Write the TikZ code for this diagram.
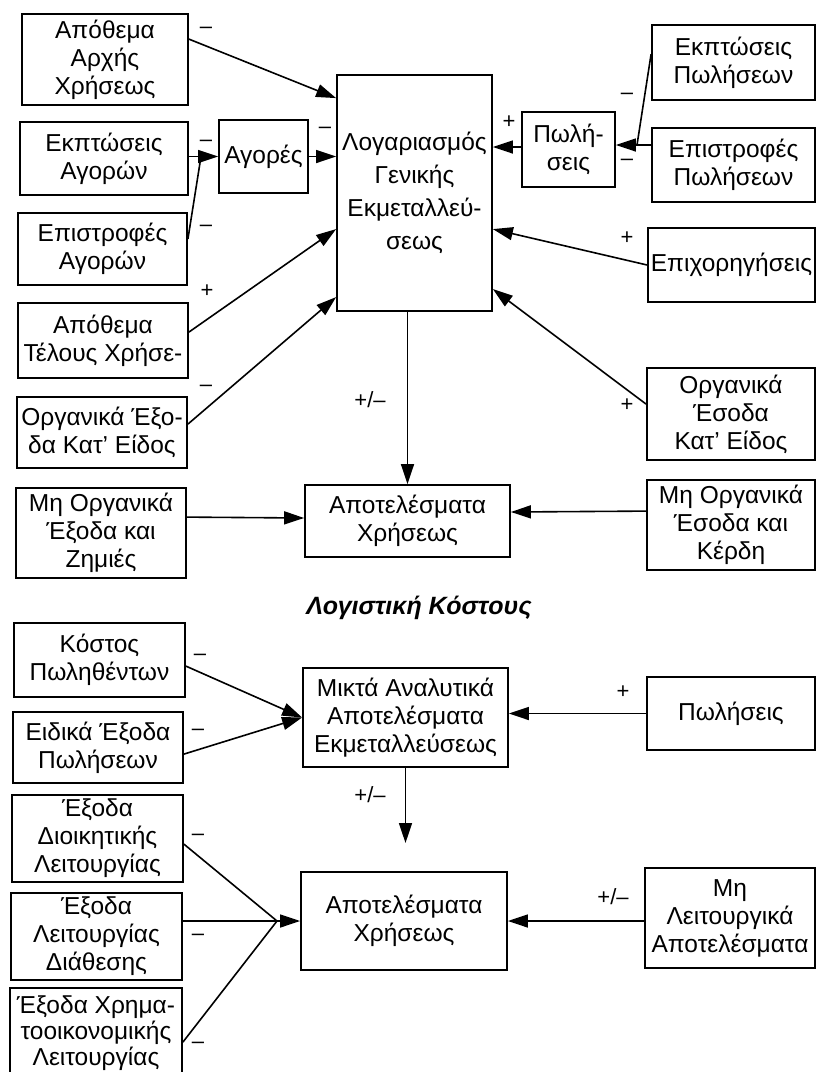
\documentclass[tikz,border=0pt]{standalone}
\usepackage{fontspec}
\setmainfont{Liberation Sans}
\usetikzlibrary{arrows.meta,calc}
\tikzset{
  bx/.style 2 args={draw, line width=1.8pt, align=center, inner sep=0pt,
    minimum width=#1pt, minimum height=#2pt,
    font=\fontsize{24.5}{28}\selectfont},
  arr/.style={-{Triangle[length=20pt,width=13pt]}, line width=1.6pt},
  ln/.style={line width=1.6pt},
  lab/.style={font=\fontsize{22}{22}\selectfont, inner sep=0pt},
}
\begin{document}
\begin{tikzpicture}[x=1pt,y=-1pt]
\useasboundingbox[fill=white] (0,0) rectangle (818,1072);
% ---------- upper part ----------
\node[bx={166}{91}] (aa) at (105,59.5) {Απόθεμα\\Αρχής\\Χρήσεως};
\node[bx={168}{73}] (ekag) at (104,158.5) {Εκπτώσεις\\Αγορών};
\node[bx={89}{73}] (agor) at (263.5,156.5) {Αγορές};
\node[bx={169}{72}] (epag) at (102.5,249) {Επιστροφές\\Αγορών};
\node[bx={155}{236}, font=\fontsize{24.5}{33}\selectfont] (main) at (414.5,193) {Λογαριασμός\\Γενικής\\Εκμεταλλεύ-\\σεως};
\node[bx={93}{75}] (pol) at (568.5,149.5) {Πωλή-\\σεις};
\node[bx={163}{75}] (ekpol) at (733.5,62.5) {Εκπτώσεις\\Πωλήσεων};
\node[bx={163}{74}] (eppol) at (733.5,165) {Επιστροφές\\Πωλήσεων};
\node[bx={167}{74}] (epix) at (731.5,265) {Επιχορηγήσεις};
\node[bx={170}{75}] (ate) at (103,340.5) {Απόθεμα\\Τέλους Χρήσε-};
\node[bx={170}{71}] (oex) at (102,432.5) {Οργανικά Έξο-\\δα Κατ’ Είδος};
\node[bx={170}{90}] (mox) at (101,533) {Μη Οργανικά\\Έξοδα και\\Ζημιές};
\node[bx={205}{72}] (ar1) at (407.5,521) {Αποτελέσματα\\Χρήσεως};
\node[bx={168}{92}] (oes) at (731,414) {Οργανικά\\Έσοδα\\Κατ’ Είδος};
\node[bx={168}{90}] (moes) at (731,525) {Μη Οργανικά\\Έσοδα και\\Κέρδη};
\node[font=\bfseries\itshape\fontsize{25}{28}\selectfont, inner sep=0pt] (title) at (419,608) {Λογιστική Κόστους};
% ---------- lower part ----------
\node[bx={171}{74}] (kp) at (99.5,660) {Κόστος\\Πωληθέντων};
\node[bx={170}{71}] (eid) at (98,747.5) {Ειδικά Έξοδα\\Πωλήσεων};
\node[bx={171}{87}] (dio) at (97.5,838.5) {Έξοδα\\Διοικητικής\\Λειτουργίας};
\node[bx={171}{87}] (dia) at (96.5,936.5) {Έξοδα\\Λειτουργίας\\Διάθεσης};
\node[bx={172}{90}, font=\fontsize{24.5}{26}\selectfont] (xrh) at (96,1033) {Έξοδα Χρημα-\\τοοικονομικής\\Λειτουργίας};
\node[bx={205}{99}] (mik) at (405.5,717.5) {Μικτά Αναλυτικά\\Αποτελέσματα\\Εκμεταλλεύσεως};
\node[bx={206}{98}] (ar2) at (404,921) {Αποτελέσματα\\Χρήσεως};
\node[bx={168}{73}] (pol2) at (731,713.5) {Πωλήσεις};
\node[bx={170}{100}] (mlr) at (730,918) {Μη\\Λειτουργικά\\Αποτελέσματα};
% ---------- coordinates ----------
\coordinate (j1) at (201,156.5);
\coordinate (j2) at (637,145);
\coordinate (conv) at (277,921);
\coordinate (gap) at (405.5,843);
% ---------- connectors upper ----------
\draw[arr] ($(aa.north east)+(0,26)$) -- ($(main.north west)+(0,24)$);
\draw[arr] (ekag.east |- j1) -- (agor.west |- j1);
\draw[ln] ($(epag.north east)+(0,27)$) -- (j1);
\draw[arr] (agor.east |- j1) -- (main.west |- j1);
\draw[arr] ($(ate.north east)+(0,30)$) -- ($(main.north west)+(0,155)$);
\draw[arr] ($(oex.north east)+(0,28)$) -- ($(main.north west)+(0,223)$);
\draw[arr] (pol.west |- 0,147) -- (main.east |- 0,147);
\draw[ln] ($(ekpol.north west)+(0,30)$) -- (j2);
\draw[arr] (eppol.west |- j2) -- (pol.east |- j2);
\draw[arr] (epix.west) -- ($(main.north east)+(0,155)$);
\draw[arr] ($(oes.north west)+(0,37)$) -- ($(main.north east)+(0,215)$);
\draw[arr] (ar1.north |- main.south) -- (ar1.north);
\draw[arr] ($(mox.north east)+(0,30)$) -- (ar1.west |- 0,518);
\draw[arr] ($(moes.north west)+(0,32)$) -- (ar1.east |- 0,512);
% ---------- connectors lower ----------
\draw[arr] ($(kp.north east)+(0,44)$) -- (mik.west);
\draw[arr] ($(eid.north east)+(0,43)$) -- (mik.west);
\draw[arr] (mik.south) -- (gap);
\draw[ln] ($(dio.north east)+(0,50)$) -- (conv);
\draw[ln] (dia.east |- conv) -- (conv);
\draw[ln] ($(xrh.north east)+(0,55)$) -- (conv);
\draw[arr] (conv) -- (ar2.west);
\draw[arr] (pol2.west) -- (mik.east |- pol2.west);
\draw[arr] (mlr.west |- ar2.east) -- (ar2.east);
% ---------- labels ----------
\node[lab] (l1) at (206,30) {–};
\node[lab] (l2) at (206,143) {–};
\node[lab] (l3) at (206,228) {–};
\node[lab] (l4) at (325,130) {–};
\node[lab] (l5) at (207,291) {+};
\node[lab] (l6) at (206,388) {–};
\node[lab] (l7) at (370,400) {+/–};
\node[lab] (l8) at (509,122) {+};
\node[lab] (l9) at (627,96) {–};
\node[lab] (l10) at (627,162) {–};
\node[lab] (l11) at (627,238) {+};
\node[lab] (l12) at (627,405) {+};
\node[lab] (l13) at (200,657) {–};
\node[lab] (l14) at (198,732) {–};
\node[lab] (l15) at (370,795) {+/–};
\node[lab] (l16) at (198,837) {–};
\node[lab] (l17) at (198,937) {–};
\node[lab] (l18) at (198,1045) {–};
\node[lab] (l19) at (623,692) {+};
\node[lab] (l20) at (613,897) {+/–};
\end{tikzpicture}
\end{document}
